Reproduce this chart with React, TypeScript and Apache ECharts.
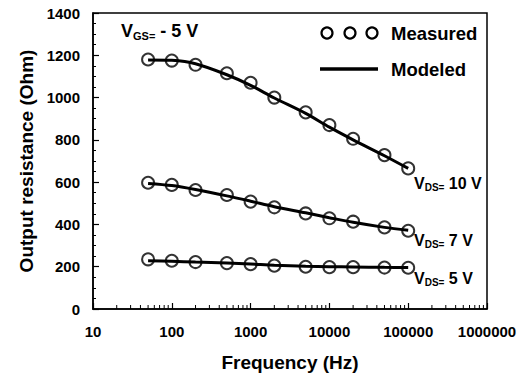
import React, { useEffect, useRef } from "react";
import * as echarts from "echarts";

const freqs = [50, 100, 200, 500, 1000, 2000, 5000, 10000, 20000, 50000, 100000];
const measured10V = [1180, 1175, 1155, 1115, 1070, 1000, 930, 870, 805, 728, 665];
const modeled10V = [1178, 1176, 1160, 1108, 1058, 998, 925, 860, 800, 725, 665];
const measured7V = [597, 587, 563, 539, 508, 481, 452, 429, 413, 386, 370];
const modeled7V = [594, 584, 565, 535, 510, 484, 455, 432, 410, 386, 372];
const measured5V = [235, 228, 222, 217, 212, 205, 200, 198, 198, 196, 195];
const modeled5V = [228, 226, 222, 218, 213, 207, 202, 200, 199, 197, 196];
const minorFreqs = [
  20, 30, 40, 50, 60, 70, 80, 90,
  200, 300, 400, 500, 600, 700, 800, 900,
  2000, 3000, 4000, 5000, 6000, 7000, 8000, 9000,
  20000, 30000, 40000, 50000, 60000, 70000, 80000, 90000,
  200000, 300000, 400000, 500000, 600000, 700000, 800000, 900000,
];

const FONT = "'Liberation Sans', Arial, Helvetica, sans-serif";

const pairs = (ys: number[]) => freqs.map((f, i) => [f, ys[i]]);

export default function App() {
  const ref = useRef<HTMLDivElement>(null);
  useEffect(() => {
    if (!ref.current) return;
    const chart = echarts.init(ref.current, null, { renderer: "svg" });
    const lineSeries = (ys: number[]) => ({
      type: "line",
      data: pairs(ys),
      smooth: 0.3,
      showSymbol: false,
      symbol: "none",
      lineStyle: { color: "#000", width: 3 },
      z: 2,
    });
    const scatterSeries = (ys: number[]) => ({
      type: "scatter",
      data: pairs(ys),
      symbol: "circle",
      symbolSize: 12,
      itemStyle: { color: "rgba(0,0,0,0)", borderColor: "#000", borderWidth: 2 },
      z: 3,
    });
    const mkRich = (big: number, small: number, pad: number) => ({
      v: { fontFamily: FONT, fontWeight: "bold", fontSize: big, color: "#000" },
      s: { fontFamily: FONT, fontWeight: "bold", fontSize: small, color: "#000", padding: [pad, 0, 0, 0] },
    });
    const vdsLabel = (x: number, y: number, txt: string) => ({
      type: "text",
      x,
      y,
      style: {
        text: "{v|V}{s|DS=}{v| " + txt + "}",
        rich: mkRich(16, 10, 8),
        verticalAlign: "middle",
      },
    });
    chart.setOption({
      animation: false,
      backgroundColor: "#fff",
      grid: { left: 93, right: 35, top: 13, bottom: 70, show: true, borderColor: "#000", borderWidth: 1.5 },
      xAxis: {
        type: "log",
        logBase: 10,
        min: 10,
        max: 1000000,
        name: "Frequency (Hz)",
        nameLocation: "middle",
        nameGap: 44,
        nameTextStyle: { fontFamily: FONT, fontWeight: "bold", fontSize: 19, color: "#000" },
        axisLine: { lineStyle: { color: "#000", width: 1.5 } },
        axisTick: { inside: true, length: 6, lineStyle: { color: "#000", width: 1.2 } },
        axisLabel: {
          margin: 15,
          fontFamily: FONT,
          fontWeight: "bold",
          fontSize: 15,
          color: "#000",
          formatter: (v: number) => String(Math.round(v)),
        },
        splitLine: { show: false },
      },
      yAxis: {
        type: "value",
        min: 0,
        max: 1400,
        interval: 200,
        name: "Output resistance (Ohm)",
        nameLocation: "middle",
        nameGap: 56,
        nameTextStyle: { fontFamily: FONT, fontWeight: "bold", fontSize: 19, color: "#000" },
        axisLine: { show: true, lineStyle: { color: "#000", width: 1.5 } },
        axisTick: { show: true, inside: true, length: 6, lineStyle: { color: "#000", width: 1.2 } },
        minorTick: { show: true, splitNumber: 4, length: 3, lineStyle: { color: "#000", width: 1 } },
        axisLabel: {
          margin: 13,
          fontFamily: FONT,
          fontWeight: "bold",
          fontSize: 15,
          color: "#000",
          formatter: (v: number) => String(v),
        },
        splitLine: { show: false },
      },
      series: [
        lineSeries(modeled10V),
        lineSeries(modeled7V),
        lineSeries(modeled5V),
        scatterSeries(measured10V),
        scatterSeries(measured7V),
        scatterSeries(measured5V),
        {
          type: "custom",
          data: minorFreqs.map((f) => [f, 0]),
          silent: true,
          z: 4,
          renderItem: (params: any, api: any) => {
            const p = api.coord([api.value(0), 0]);
            return {
              type: "line",
              shape: { x1: p[0], y1: p[1], x2: p[0], y2: p[1] - 4 },
              style: { stroke: "#000", lineWidth: 1 },
            };
          },
        },
      ],
      graphic: [
        {
          type: "text",
          x: 121,
          y: 31,
          style: {
            text: "{v|V}{s|GS=}{v| - 5 V}",
            rich: mkRich(18, 11, 9),
            verticalAlign: "middle",
          },
        },
        { type: "circle", shape: { cx: 327, cy: 33, r: 5.5 }, style: { fill: "none", stroke: "#000", lineWidth: 2.2 } },
        { type: "circle", shape: { cx: 350, cy: 33, r: 5.5 }, style: { fill: "none", stroke: "#000", lineWidth: 2.2 } },
        { type: "circle", shape: { cx: 372, cy: 33, r: 5.5 }, style: { fill: "none", stroke: "#000", lineWidth: 2.2 } },
        {
          type: "text",
          x: 391,
          y: 33,
          style: { text: "Measured", fontFamily: FONT, fontWeight: "bold", fontSize: 18.5, fill: "#000", verticalAlign: "middle" },
        },
        { type: "line", shape: { x1: 320, y1: 69, x2: 378, y2: 69 }, style: { stroke: "#000", lineWidth: 3.5 } },
        {
          type: "text",
          x: 391,
          y: 69,
          style: { text: "Modeled", fontFamily: FONT, fontWeight: "bold", fontSize: 18.5, fill: "#000", verticalAlign: "middle" },
        },
        vdsLabel(414, 183, "10 V"),
        vdsLabel(414, 240, "7 V"),
        vdsLabel(414, 278, "5 V"),
      ],
    });
    return () => chart.dispose();
  }, []);
  return <div ref={ref} style={{ width: 522, height: 379, position: "absolute", left: 0, top: 0 }} />;
}
